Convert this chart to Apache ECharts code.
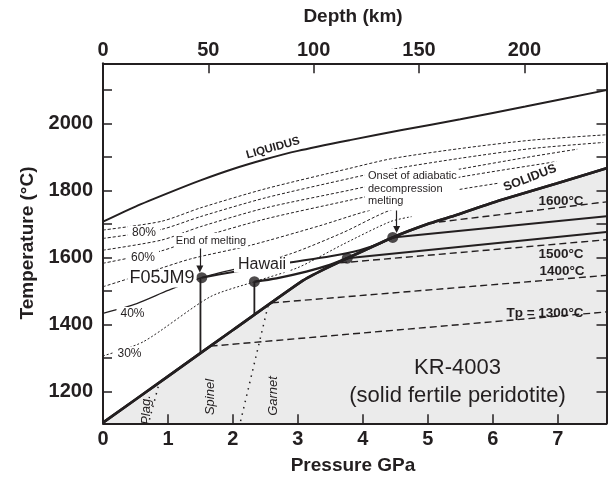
<!doctype html>
<html lang="en">
<head>
<meta charset="UTF-8"/>
<title>KR-4003 melting</title>
<script src="https://cdn.jsdelivr.net/npm/echarts@6/dist/echarts.min.js"></script>
<style>
	html, body { margin: 0; padding: 0; background: #fff; }
	#main { width: 608px; height: 478px; }
</style>
</head>
<body>
<div id="main"></div>
<script type="text/javascript">
// axis ticks
var pressureTicks = [0, 1, 2, 3, 4, 5, 6, 7];
var depthTicks = [0, 50, 100, 150, 200];
var tempTicks = [1200, 1300, 1400, 1500, 1600, 1700, 1800, 1900, 2000, 2100];
var tempLabels = [1200, 1400, 1600, 1800, 2000];

// phase curves [GPa, °C]
var liquidus = [[0, 1707], [0.5, 1752], [1, 1792], [1.5, 1830], [2, 1864], [2.5, 1893], [3, 1918], [3.8, 1950], [4.6, 1980], [5.5, 2012], [6.5, 2050], [7.75, 2099]];
var solidus = [[0, 1108], [1, 1246], [2, 1384], [3.08, 1532], [3.4, 1565], [3.76, 1598], [4.46, 1660], [5.03, 1702], [5.44, 1727], [6.1, 1770], [6.98, 1821], [7.75, 1866]];

// melt fraction isopleths
var melt90 = [[0, 1682], [0.9, 1708], [1.5, 1748], [2.5, 1805], [3.8, 1866], [4.45, 1895], [5.5, 1925], [6.6, 1950], [7.75, 1966]];
var melt80 = [[0, 1657], [0.9, 1684], [1.5, 1722], [2.5, 1778], [3.8, 1836], [4.5, 1865], [5.5, 1896], [6.6, 1925], [7.7, 1943]];
var melt70 = [[0, 1622], [0.9, 1652], [1.5, 1692], [2.5, 1748], [3.8, 1801], [4.5, 1830], [5.5, 1864], [6.5, 1898], [7.3, 1923]];
var melt60 = [[0, 1583], [0.9, 1620], [1.5, 1660], [2.5, 1715], [3.8, 1771], [4.5, 1800], [5.5, 1840], [6.98, 1886]];
var melt50 = [[0, 1513], [0.7, 1556], [1.35, 1596], [2.26, 1636], [3.34, 1695], [4.0, 1735], [4.7, 1770], [5.4, 1800], [6.1, 1822]];
var melt40a = [[0, 1434], [0.52, 1463], [1.0, 1502], [1.52, 1540], [2.05, 1566]];
var melt40b = [[2.05, 1566], [2.9, 1612], [3.7, 1675], [4.42, 1741], [4.92, 1757]];
var melt30 = [[0, 1307], [0.62, 1349], [1.65, 1483], [2.33, 1528], [3.0, 1570], [3.7, 1640], [4.42, 1707], [4.75, 1722]];

// adiabats
var tp1300 = [[1.656, 1336], [7.75, 1438]];
var tp1400 = [[2.6, 1465], [7.75, 1547]];
var tp1500sub = [[3.65, 1584], [7.75, 1653]];
var tp1600sub = [[5.0, 1702], [7.75, 1766]];
var tp1500 = [[3.76, 1598], [7.75, 1676]];
var tp1600 = [[4.46, 1660], [7.75, 1723]];

// melting paths
var pathF05 = [[1.52, 1540], [2.0, 1557], [2.83, 1584], [3.5, 1604], [3.95, 1622], [4.25, 1641], [4.46, 1660]];
var pathHawaii = [[2.33, 1528], [2.67, 1538], [3.13, 1558], [3.49, 1578], [3.76, 1598]];
var dropF05 = [[1.5, 1540], [1.5, 1314]];
var dropHawaii = [[2.33, 1528], [2.33, 1429]];
var dots = [[1.52, 1540], [2.33, 1528], [3.76, 1598], [4.46, 1660]];

// mineral boundaries
var plagSpinel = [[0.85, 1215], [0.7, 1106]];
var spinelGarnet = [[2.54, 1456], [2.11, 1106]];

// annotation arrows
var arrowEnd = [[1.49, 1627], [1.49, 1566]];
var arrowOnset = [[4.52, 1745], [4.52, 1684]];

var ink = '#231f20';
var sans = "'Liberation Sans', Arial, Helvetica, sans-serif";

function line(data, width, type, extra) {
	var s = {
		type: 'line',
		data: data,
		showSymbol: false,
		silent: true,
		animation: false,
		smooth: 0.25,
		z: 3,
		lineStyle: { color: ink, width: width, type: type || 'solid' }
	};
	for (var k in extra) s[k] = extra[k];
	return s;
}

function txt(text, x, y, size, style, extra) {
	var st = {
		text: text,
		fill: ink,
		font: (style || '') + ' ' + size + 'px ' + sans,
		align: 'center',
		verticalAlign: 'middle'
	};
	var e = { type: 'text', z: 100, x: x, y: y, style: st };
	for (var k in extra) {
		if (k === 'rotation') e.rotation = extra[k];
		else st[k] = extra[k];
	}
	return e;
}

function plain(v) { return String(v); }

var myChart = echarts.init(document.getElementById('main'));

var axisLine = { show: true, onZero: false, lineStyle: { color: ink, width: 2 } };
var tickLabel = { color: ink, fontSize: 20, fontWeight: 'bold', fontFamily: sans, formatter: plain };

var option = {
	animation: false,
	grid: { left: 103, right: 1.5, top: 63.3, bottom: 54.7, z: 10 },
	xAxis: [{
		type: 'value', min: 0, max: 7.75, position: 'bottom', z: 10,
		axisLine: axisLine,
		splitLine: { show: false },
		axisTick: { inside: true, length: 9, customValues: pressureTicks, lineStyle: { color: ink, width: 1.5 } },
		axisLabel: Object.assign({ customValues: pressureTicks, margin: 6 }, tickLabel)
	}, {
		type: 'value', min: 0, max: 239, position: 'top', z: 10,
		axisLine: axisLine,
		splitLine: { show: false },
		axisTick: { inside: true, length: 10, customValues: depthTicks, lineStyle: { color: ink, width: 1.5 } },
		axisLabel: Object.assign({ customValues: depthTicks, margin: 3 }, tickLabel)
	}],
	yAxis: [{
		type: 'value', min: 1106, max: 2179, position: 'left', z: 10,
		axisLine: axisLine,
		splitLine: { show: false },
		axisTick: { inside: true, length: 9, customValues: tempTicks, lineStyle: { color: ink, width: 1.5 } },
		axisLabel: Object.assign({ customValues: tempLabels, margin: 10 }, tickLabel)
	}, {
		type: 'value', min: 1106, max: 2179, position: 'right', z: 10,
		axisLine: axisLine,
		splitLine: { show: false },
		axisTick: { show: true, inside: true, length: 10, customValues: tempTicks, lineStyle: { color: ink, width: 1.5 } },
		axisLabel: { show: false }
	}],
	series: [
		// solid peridotite field below the solidus
		line(solidus, 2.6, 'solid', { smooth: 0.2, z: 1, areaStyle: { color: '#ebebeb', opacity: 1, origin: 'start' } }),
		line(solidus, 2.6, 'solid', { smooth: 0.2, z: 5 }),
		line(liquidus, 2),
		line(melt90, 1, [3, 2]),
		line(melt80, 1, [3, 2]),
		line(melt70, 1, [3, 2]),
		line(melt60, 1, [3, 2]),
		line(melt50, 1, [3, 2]),
		line(melt40a, 1.3),
		line(melt40b, 1, [3, 2]),
		line(melt30, 1, [2, 2]),
		line(tp1300, 1.4, [7, 4], { smooth: false }),
		line(tp1400, 1.4, [7, 4], { smooth: false }),
		line(tp1500sub, 1.4, [7, 4], { smooth: false }),
		line(tp1600sub, 1.4, [7, 4], { smooth: false }),
		line(tp1500, 2, 'solid', { smooth: false }),
		line(tp1600, 2, 'solid', { smooth: false }),
		line(pathF05, 2),
		line(pathHawaii, 2.4),
		line(dropF05, 1.8, 'solid', { smooth: false }),
		line(dropHawaii, 1.8, 'solid', { smooth: false }),
		line(plagSpinel, 1.5, [1.5, 5], { smooth: false }),
		line(spinelGarnet, 1.5, [1.5, 5], { smooth: false }),
		{
			type: 'lines',
			coordinateSystem: 'cartesian2d',
			silent: true,
			z: 6,
			symbol: ['none', 'triangle'],
			symbolSize: 7,
			lineStyle: { color: ink, width: 1.2, opacity: 1 },
			data: [{ coords: arrowEnd }, { coords: arrowOnset }]
		},
		{
			type: 'scatter',
			data: dots,
			symbolSize: 11,
			silent: true,
			z: 8,
			itemStyle: { color: ink }
		}
	],
	graphic: [
		// axis titles
		txt('Depth (km)', 353, 17, 19, 'bold'),
		txt('Pressure GPa', 353, 466, 19, 'bold'),
		txt('Temperature (\u00B0C)', 28, 243, 19, 'bold', { rotation: Math.PI / 2 }),
		// curve names
		txt('LIQUIDUS', 273, 148, 11.5, 'bold', { rotation: 0.27 }),
		txt('SOLIDUS', 530, 178, 12.5, 'bold', { rotation: 0.37, backgroundColor: '#fff', padding: [0, 1] }),
		// melt fractions
		txt('80%', 144, 233, 12, '', { backgroundColor: '#fff', padding: [1, 4] }),
		txt('60%', 143, 258, 12, '', { backgroundColor: '#fff', padding: [1, 4] }),
		txt('40%', 132.5, 314, 12, '', { backgroundColor: '#fff', padding: [1, 4] }),
		txt('30%', 129.5, 353.5, 12, '', { backgroundColor: '#fff', padding: [1, 4] }),
		// samples
		txt('F05JM9', 162, 278.5, 18, '', { backgroundColor: '#fff', padding: [0, 2] }),
		txt('Hawaii', 262, 264.5, 16, '', { backgroundColor: '#fff', padding: [0, 4] }),
		txt('End of melting', 211, 240.5, 11, '', { backgroundColor: '#fff', padding: [2, 2] }),
		txt('Onset of adiabatic\ndecompression\nmelting', 365, 169, 11, '', {
			align: 'left', verticalAlign: 'top', lineHeight: 12.5, backgroundColor: '#fff', padding: [1, 2, 3, 3]
		}),
		// potential temperatures
		txt('1600\u00B0C', 561, 201, 13.5, 'bold'),
		txt('1500\u00B0C', 561, 254, 13.5, 'bold'),
		txt('1400\u00B0C', 562, 271.5, 13.5, 'bold'),
		txt('Tp = 1300\u00B0C', 545, 313, 13.5, 'bold'),
		// solid field
		txt('KR-4003', 457.5, 368, 22),
		txt('(solid fertile peridotite)', 457.5, 396, 22),
		txt('Plag.', 146, 410, 13, 'italic', { rotation: Math.PI / 2 }),
		txt('Spinel', 210, 397, 13, 'italic', { rotation: Math.PI / 2 }),
		txt('Garnet', 273.5, 396, 13, 'italic', { rotation: Math.PI / 2 })
	]
};

myChart.setOption(option);
</script>
</body>
</html>
